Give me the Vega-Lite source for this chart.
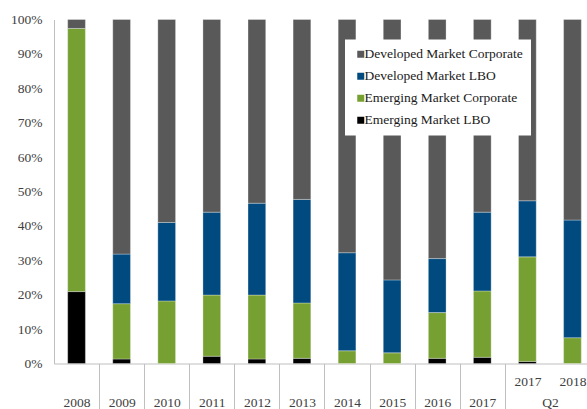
{
  "$schema": "https://vega.github.io/schema/vega-lite/v6.json",
  "width": 541,
  "height": 344,
  "autosize": {"type": "none"},
  "padding": {"left": 54, "top": 19.5, "right": -8, "bottom": 45.5},
  "background": "white",
  "config": {"view": {"stroke": null}, "font": "Liberation Serif"},
  "data": {
    "values": [
      {"period": "2008", "series": "Emerging Market LBO", "value": 20.9},
      {"period": "2008", "series": "Emerging Market Corporate", "value": 76.5},
      {"period": "2008", "series": "Developed Market Corporate", "value": 2.6},
      {"period": "2009", "series": "Emerging Market LBO", "value": 1.3},
      {"period": "2009", "series": "Emerging Market Corporate", "value": 16.1},
      {"period": "2009", "series": "Developed Market LBO", "value": 14.4},
      {"period": "2009", "series": "Developed Market Corporate", "value": 68.2},
      {"period": "2010", "series": "Emerging Market Corporate", "value": 18.2},
      {"period": "2010", "series": "Developed Market LBO", "value": 22.8},
      {"period": "2010", "series": "Developed Market Corporate", "value": 59.0},
      {"period": "2011", "series": "Emerging Market LBO", "value": 2.1},
      {"period": "2011", "series": "Emerging Market Corporate", "value": 17.8},
      {"period": "2011", "series": "Developed Market LBO", "value": 24.1},
      {"period": "2011", "series": "Developed Market Corporate", "value": 56.0},
      {"period": "2012", "series": "Emerging Market LBO", "value": 1.3},
      {"period": "2012", "series": "Emerging Market Corporate", "value": 18.6},
      {"period": "2012", "series": "Developed Market LBO", "value": 26.7},
      {"period": "2012", "series": "Developed Market Corporate", "value": 53.4},
      {"period": "2013", "series": "Emerging Market LBO", "value": 1.5},
      {"period": "2013", "series": "Emerging Market Corporate", "value": 16.1},
      {"period": "2013", "series": "Developed Market LBO", "value": 30.1},
      {"period": "2013", "series": "Developed Market Corporate", "value": 52.3},
      {"period": "2014", "series": "Emerging Market Corporate", "value": 3.7},
      {"period": "2014", "series": "Developed Market LBO", "value": 28.5},
      {"period": "2014", "series": "Developed Market Corporate", "value": 67.8},
      {"period": "2015", "series": "Emerging Market Corporate", "value": 3.1},
      {"period": "2015", "series": "Developed Market LBO", "value": 21.2},
      {"period": "2015", "series": "Developed Market Corporate", "value": 75.7},
      {"period": "2016", "series": "Emerging Market LBO", "value": 1.5},
      {"period": "2016", "series": "Emerging Market Corporate", "value": 13.3},
      {"period": "2016", "series": "Developed Market LBO", "value": 15.7},
      {"period": "2016", "series": "Developed Market Corporate", "value": 69.5},
      {"period": "2017", "series": "Emerging Market LBO", "value": 1.8},
      {"period": "2017", "series": "Emerging Market Corporate", "value": 19.3},
      {"period": "2017", "series": "Developed Market LBO", "value": 22.9},
      {"period": "2017", "series": "Developed Market Corporate", "value": 56.0},
      {"period": "2017 Q2", "series": "Emerging Market LBO", "value": 0.6},
      {"period": "2017 Q2", "series": "Emerging Market Corporate", "value": 30.4},
      {"period": "2017 Q2", "series": "Developed Market LBO", "value": 16.3},
      {"period": "2017 Q2", "series": "Developed Market Corporate", "value": 52.7},
      {"period": "2018 Q2", "series": "Emerging Market Corporate", "value": 7.5},
      {"period": "2018 Q2", "series": "Developed Market LBO", "value": 34.2},
      {"period": "2018 Q2", "series": "Developed Market Corporate", "value": 58.3}
    ]
  },
  "mark": {"type": "bar", "stroke": "#ffffff", "strokeWidth": 0.5, "strokeOpacity": 0.6},
  "encoding": {
    "x": {
      "field": "period",
      "type": "nominal",
      "sort": null,
      "scale": {"paddingInner": 0.607, "paddingOuter": 0.3035},
      "axis": {
        "title": "Q2",
        "titleX": 496,
        "titleY": 32,
        "titleBaseline": "top",
        "titleAlign": "center",
        "titleFontSize": 13.5,
        "titleFontWeight": "normal",
        "titleColor": "#404040",
        "labelExpr": "indexof(datum.value, 'Q2') >= 0 ? [replace(datum.value, ' Q2', ''), ''] : ['', datum.value]",
        "labelAngle": 0,
        "labelBaseline": "top",
        "labelPadding": -35.5,
        "labelLineHeight": 21,
        "labelOffset": -22.5,
        "labelFontSize": 13.5,
        "labelColor": "#404040",
        "tickOffset": 22.5,
        "tickSize": 46,
        "tickColor": "#bfbfbf",
        "tickOpacity": {"condition": {"test": "datum.value === '2017 Q2'", "value": 0}, "value": 1},
        "domainColor": "#bfbfbf"
      }
    },
    "y": {
      "field": "value",
      "type": "quantitative",
      "stack": "normalize",
      "axis": {
        "format": ".0%",
        "values": [0, 0.1, 0.2, 0.3, 0.4, 0.5, 0.6, 0.7, 0.8, 0.9, 1],
        "title": null,
        "ticks": false,
        "grid": false,
        "labelPadding": 12,
        "labelFontSize": 13.5,
        "labelColor": "#404040",
        "domainColor": "#bfbfbf"
      }
    },
    "color": {
      "field": "series",
      "type": "nominal",
      "scale": {
        "domain": ["Developed Market Corporate", "Developed Market LBO", "Emerging Market Corporate", "Emerging Market LBO"],
        "range": ["#595959", "#004a7f", "#77a033", "#000000"]
      },
      "legend": {
        "title": null,
        "orient": "none",
        "legendX": 291,
        "legendY": 20,
        "fillColor": "white",
        "padding": 8,
        "rowPadding": 7,
        "symbolType": "square",
        "symbolSize": 49,
        "symbolStrokeWidth": 0,
        "symbolOffset": 1,
        "labelOffset": -3,
        "labelFontSize": 13.5,
        "labelColor": "#1a1a1a",
        "labelLimit": 300
      }
    },
    "order": {"field": "series", "sort": "descending"}
  }
}
